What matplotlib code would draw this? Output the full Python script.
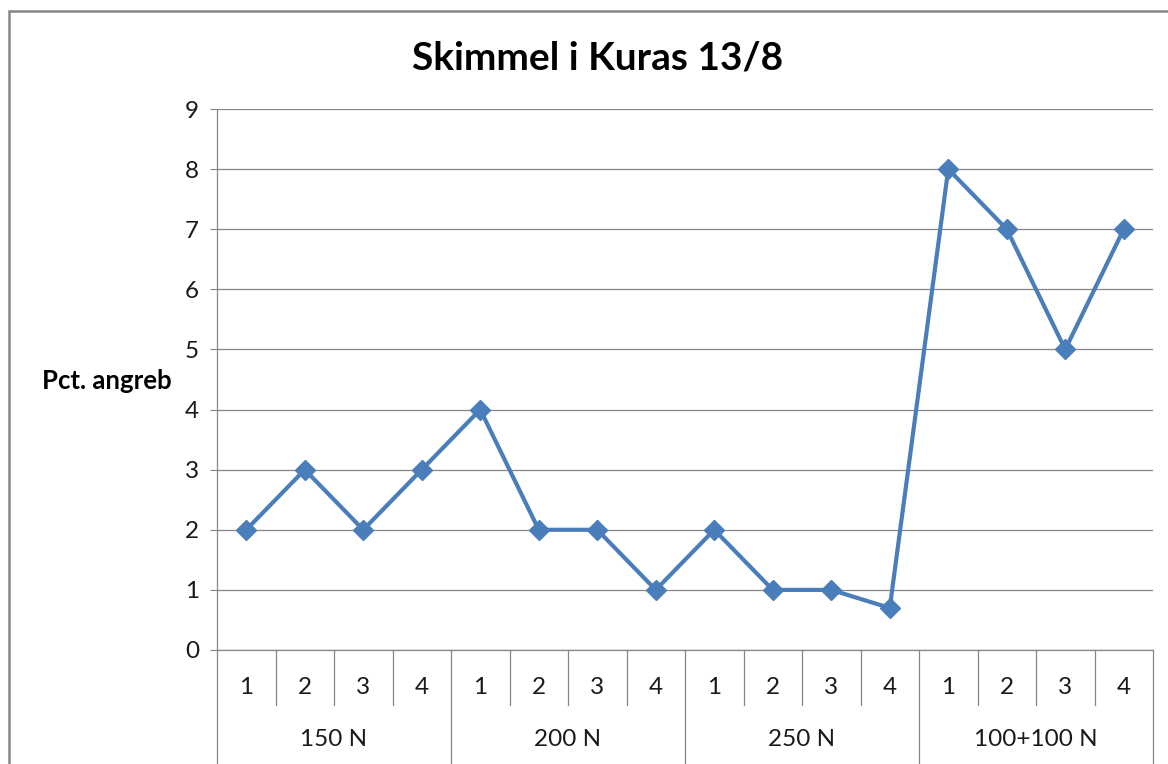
import matplotlib
matplotlib.use("Agg")
import matplotlib.pyplot as plt
from matplotlib.patches import Rectangle
import matplotlib.transforms as mtransforms

plt.rcParams['font.family'] = ['Lato', 'DejaVu Sans']

# data
groups = ['150 N', '200 N', '250 N', '100+100 N']
reps = ['1', '2', '3', '4']
values = [2, 3, 2, 3, 4, 2, 2, 1, 2, 1, 1, 0.7, 8, 7, 5, 7]

grid_col = '#868686'
line_col = '#4A7EBB'

fig = plt.figure(figsize=(11.68, 7.64), dpi=100)
ax = fig.add_axes([217 / 1168, 1 - 650 / 764, (1153 - 217) / 1168, (650 - 109) / 764])

x = [i + 0.5 for i in range(len(values))]
ax.plot(x, values, color=line_col, lw=3, marker='D', ms=10.5, mfc=line_col, mec=line_col, zorder=3)

ax.set_xlim(0, len(values))
ax.set_ylim(0, 9)
ax.set_yticks(range(0, 10))
ax.yaxis.grid(True, color=grid_col, lw=0.9)
ax.set_axisbelow(True)
ax.set_xticks([])
for s in ['top', 'right']:
    ax.spines[s].set_visible(False)
for s in ['left', 'bottom']:
    ax.spines[s].set_color(grid_col)
    ax.spines[s].set_linewidth(0.9)
ax.tick_params(axis='y', length=5, color=grid_col, labelsize=17.5, pad=8, labelcolor='#1a1a1a')

# multi-level category axis
trans = mtransforms.blended_transform_factory(ax.transData, ax.transAxes)
cat_bottom = -(705 - 650) / 541
fig_bottom = -(764 - 650) / 541
n = len(reps)
for i in range(len(values) + 1):
    y0 = fig_bottom if i % n == 0 else cat_bottom
    ax.plot([i, i], [0, y0], transform=trans, color=grid_col, lw=0.9, clip_on=False)
for i, xv in enumerate(x):
    ax.text(xv, -(688 - 650) / 541, reps[i % n], transform=trans, ha='center', va='center',
            fontsize=17.5, color='#1a1a1a')
for g, name in enumerate(groups):
    ax.text(g * n + n / 2, -(740 - 650) / 541, name, transform=trans, ha='center', va='center',
            fontsize=17.5, color='#1a1a1a')

fig.text(598 / 1168, 1 - 58 / 764, 'Skimmel i Kuras 13/8', ha='center', va='center',
         fontsize=28, fontweight='bold', color='black')
fig.text(107 / 1168, 1 - 381 / 764, 'Pct. angreb', ha='center', va='center',
         fontsize=18.5, fontweight='bold', color='black')

# outer chart border (cropped on right and bottom)
fig.patches.append(Rectangle((9 / 1168, -0.1), 1.2, 1 - 11 / 764 + 0.1, transform=fig.transFigure,
                             fill=False, edgecolor=grid_col, lw=1.8))

fig.savefig('out.png', dpi=100)
